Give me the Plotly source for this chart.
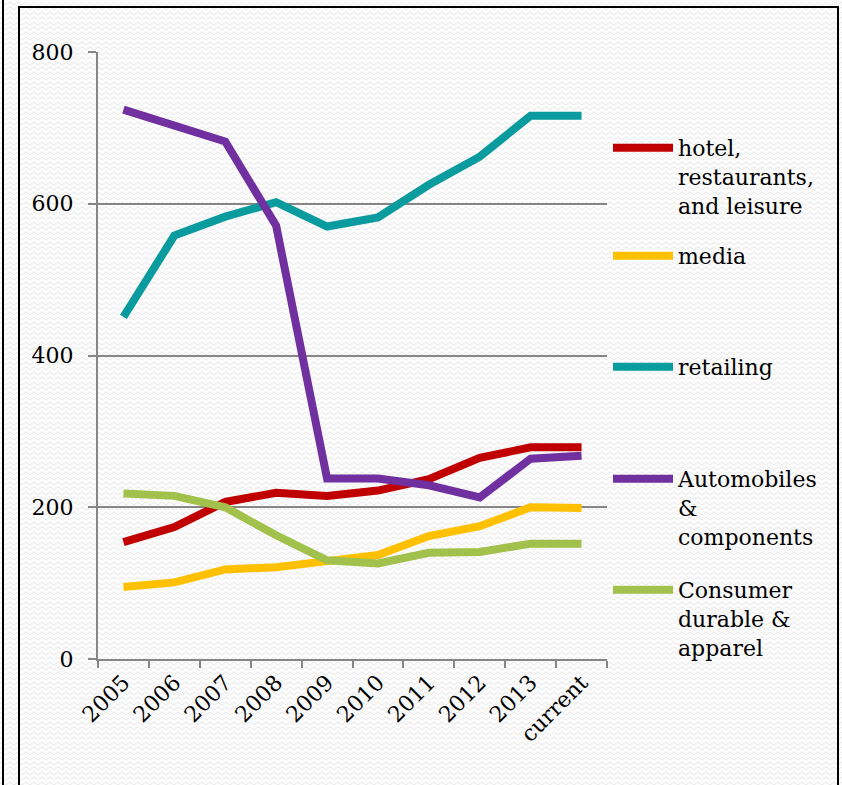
import base64
import plotly.graph_objects as go

# Category labels along the x axis
years = ["2005", "2006", "2007", "2008", "2009", "2010", "2011", "2012", "2013", "current"]

# Sector values per year
hotel = [154, 174, 207, 219, 215, 222, 237, 265, 279, 279]
media = [95, 101, 118, 121, 129, 137, 162, 175, 200, 199]
retailing = [451, 558, 583, 602, 570, 582, 625, 662, 716, 716]
automobiles = [724, 704, 682, 571, 238, 238, 229, 213, 264, 268]
consumer = [218, 215, 200, 163, 130, 126, 140, 141, 152, 152]

y_ticks = [0, 200, 400, 600, 800]

W, H = 842, 785
L, R, T, B = 98, 607, 52, 659  # plot-area edges in pixels


def px(x):
    return (x - L) / (R - L)


def py(y):
    return (B - y) / (B - T)


FONT = "DejaVu Serif"

series = [
    ("hotel,<br>restaurants,<br>and leisure", hotel, "#C00000"),
    ("media", media, "#FFC000"),
    ("retailing", retailing, "#0A9B9E"),
    ("Automobiles<br>&<br>components", automobiles, "#7030A0"),
    ("Consumer<br>durable &<br>apparel", consumer, "#A2C14C"),
]

# Separate legend boxes so each entry sits at its own height
legend_tops = [127, 235, 346, 458, 569]

fig = go.Figure()
legend_layout = {}
for i, ((name, vals, color), top) in enumerate(zip(series, legend_tops)):
    key = "legend" if i == 0 else f"legend{i + 1}"
    fig.add_trace(go.Scatter(
        x=years, y=vals, name=name, mode="lines",
        line=dict(color=color, width=8),
        legend=key,
    ))
    legend_layout[key] = dict(
        x=px(608), y=py(top), xanchor="left", yanchor="top",
        bgcolor="rgba(0,0,0,0)", borderwidth=0,
        font=dict(family=FONT, size=22, color="#000000"),
        valign="top", itemwidth=60,
    )

# Subtle wavy background texture
wave_svg = (
    f'<svg xmlns="http://www.w3.org/2000/svg" width="{W}" height="{H}">'
    '<defs><pattern id="w" width="8" height="5" patternUnits="userSpaceOnUse">'
    '<path d="M0,3.5 Q2,0.5 4,3.5 T8,3.5" fill="none" stroke="#e9e9e9" stroke-width="1"/>'
    '</pattern></defs>'
    f'<rect width="{W}" height="{H}" fill="#fcfcfc"/>'
    f'<rect width="{W}" height="{H}" fill="url(#w)"/>'
    '</svg>'
)
wave_uri = "data:image/svg+xml;base64," + base64.b64encode(wave_svg.encode()).decode()

fig.update_layout(
    width=W, height=H,
    margin=dict(l=L, r=W - R, t=T, b=H - B, pad=0),
    paper_bgcolor="#ffffff",
    plot_bgcolor="rgba(0,0,0,0)",
    font=dict(family=FONT, size=22, color="#000000"),
    showlegend=True,
    images=[dict(
        source=wave_uri, xref="paper", yref="paper",
        x=px(0), y=py(0), sizex=W / (R - L), sizey=H / (B - T),
        xanchor="left", yanchor="top", sizing="stretch", layer="below",
    )],
    xaxis=dict(
        type="category", range=[-0.5, len(years) - 0.5],
        showgrid=False, showline=True, linecolor="#868686", linewidth=2,
        ticks="outside", tickson="boundaries", ticklen=7, tickwidth=2,
        tickcolor="#868686", tickangle=-45,
        tickfont=dict(family=FONT, size=22, color="#000000"),
        zeroline=False,
    ),
    yaxis=dict(
        range=[0, 800], tickvals=y_ticks,
        showgrid=True, gridcolor="#868686", gridwidth=2,
        showline=True, linecolor="#868686", linewidth=2,
        ticks="outside", ticklen=8, tickwidth=2, tickcolor="#868686",
        ticklabelstandoff=10,
        tickfont=dict(family=FONT, size=22, color="#000000"),
        zeroline=False,
    ),
    shapes=[
        dict(type="rect", xref="paper", yref="paper",
             x0=px(19), x1=px(838), y0=py(795), y1=py(7),
             line=dict(color="#000000", width=2), fillcolor="rgba(0,0,0,0)"),
        dict(type="line", xref="paper", yref="paper",
             x0=px(3), x1=px(3), y0=py(795), y1=py(-5),
             line=dict(color="#000000", width=2)),
    ],
    **legend_layout,
)

fig.write_html("out.html")
